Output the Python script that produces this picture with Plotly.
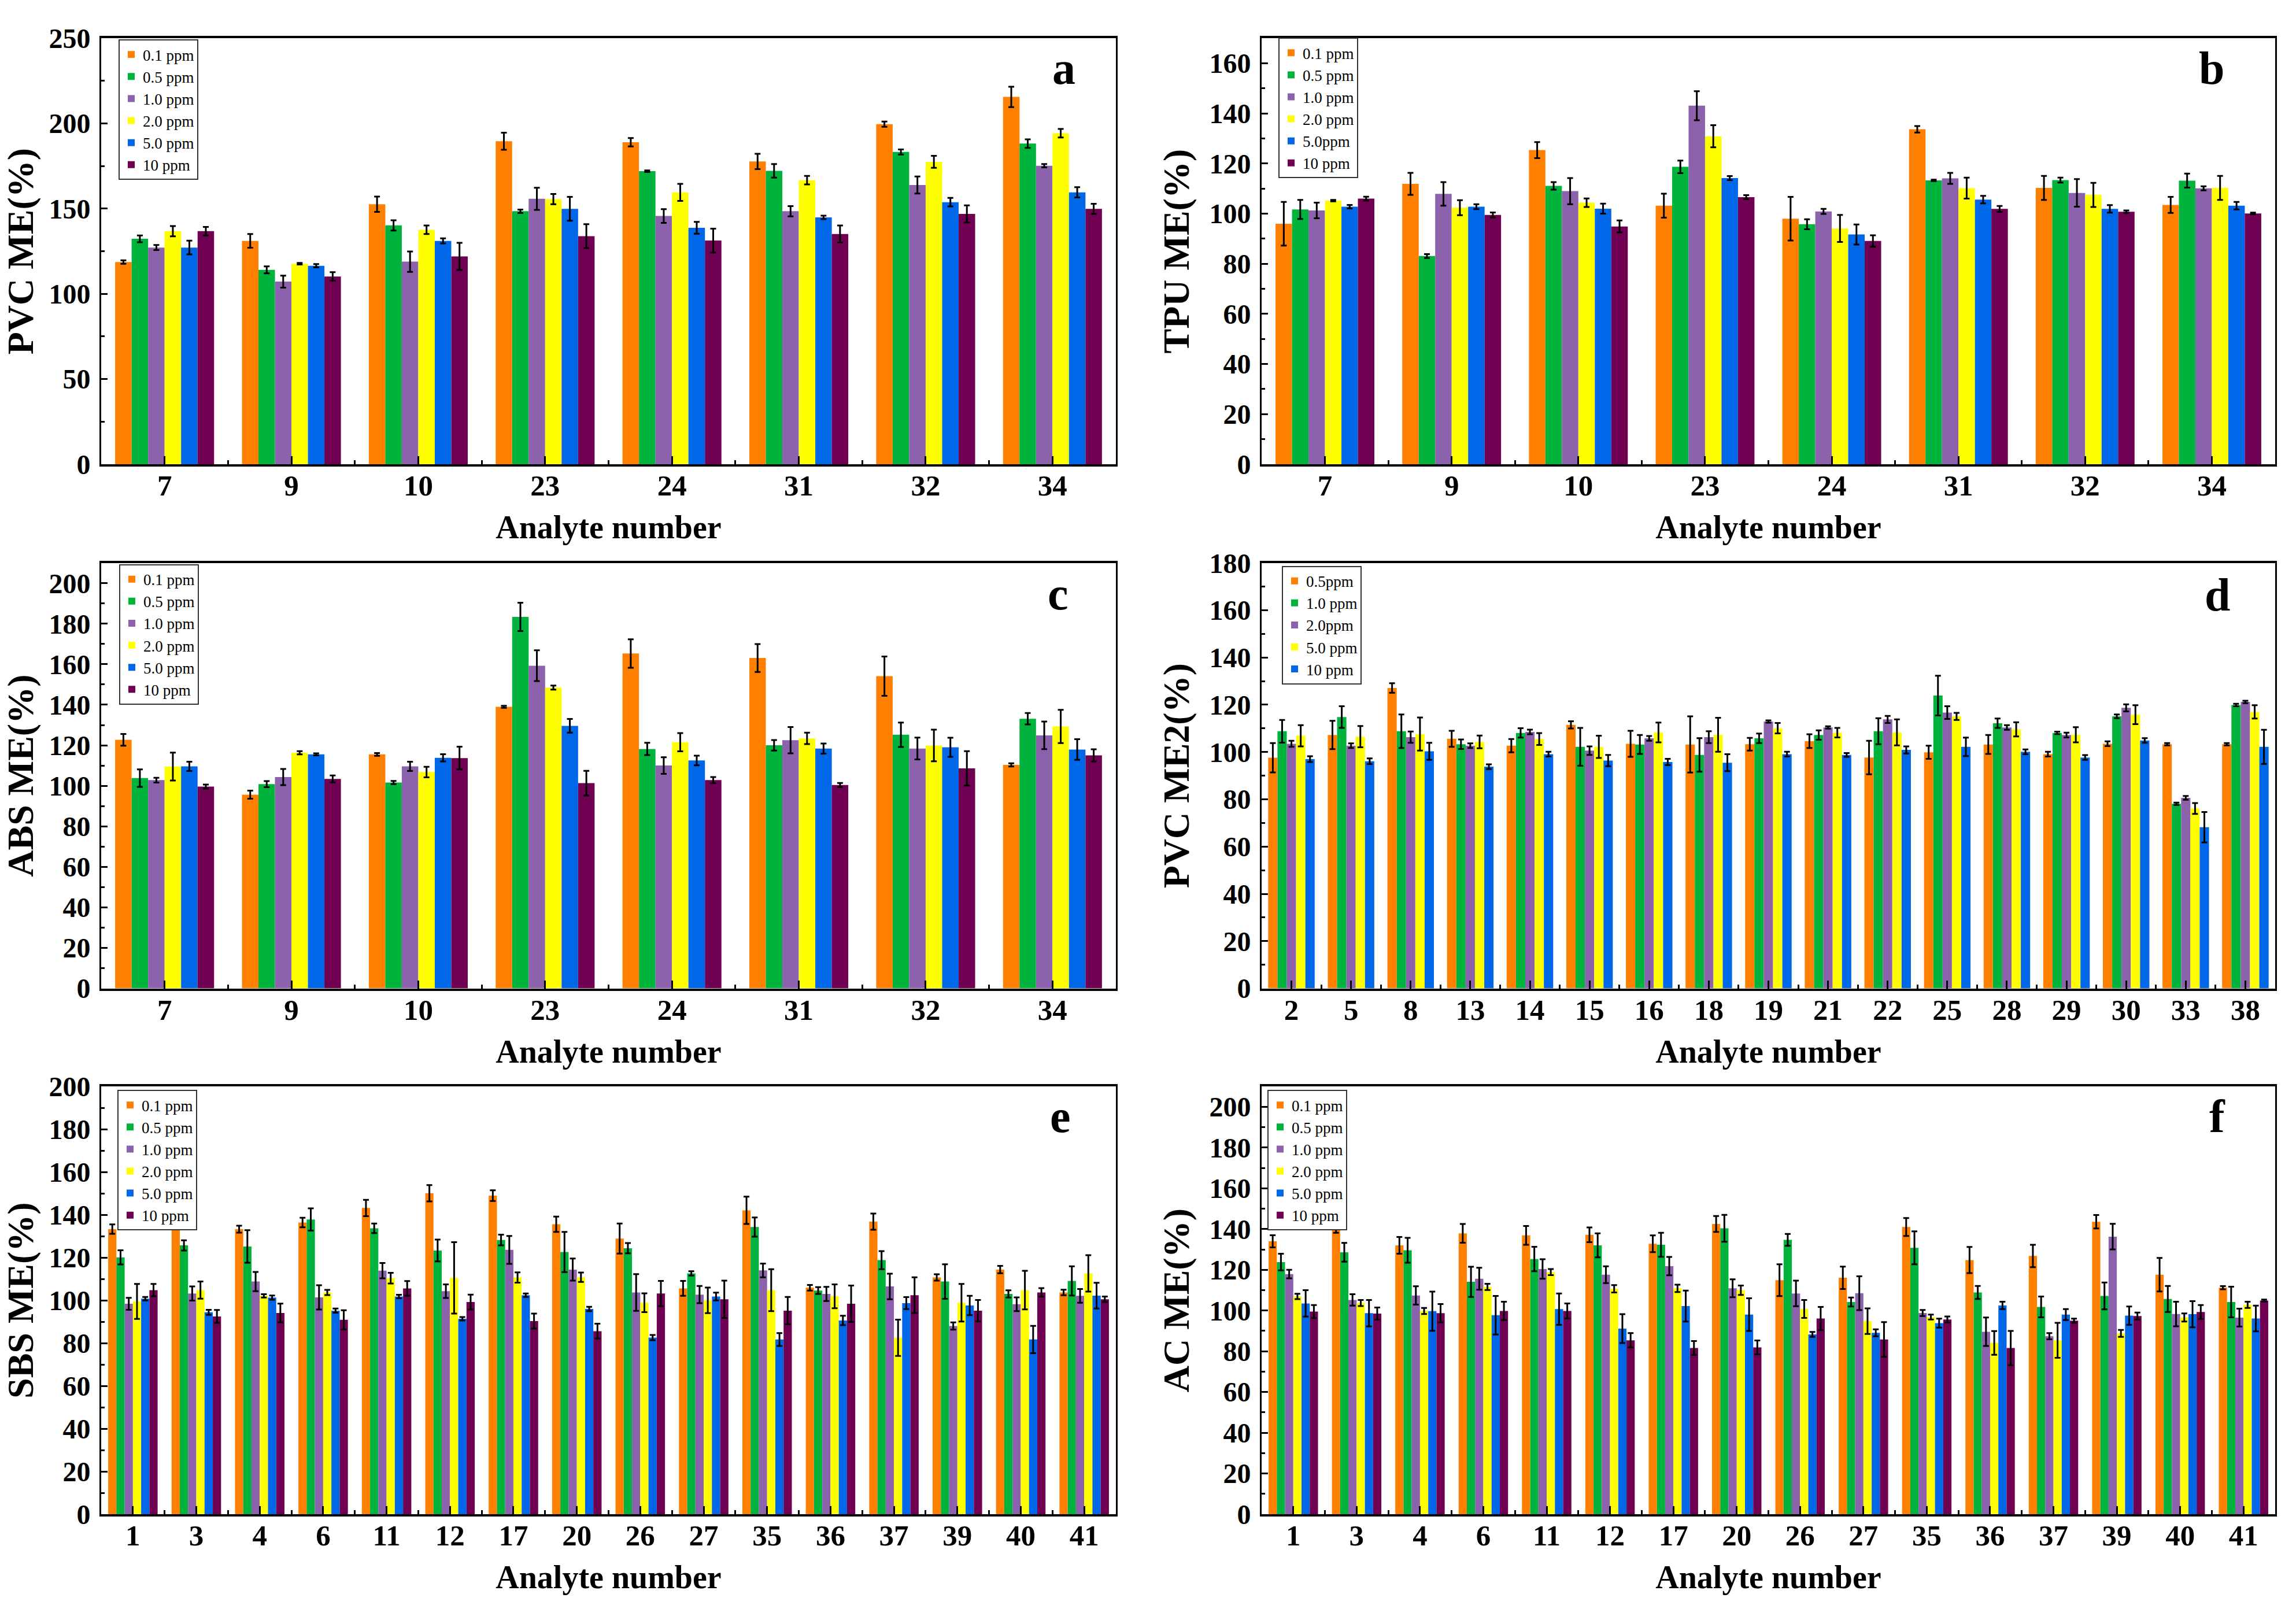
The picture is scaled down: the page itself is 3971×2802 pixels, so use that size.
import plotly.graph_objects as go

W, H = 3971, 2802

# ---------------- data ----------------
colors6 = ["#FF8000", "#00B33C", "#8C62AC", "#FFFF00", "#0068E8", "#6F0052"]
colors5 = ["#FF8000", "#00B33C", "#8C62AC", "#FFFF00", "#0068E8"]
labels_a = ["0.1 ppm", "0.5 ppm", "1.0 ppm", "2.0 ppm", "5.0 ppm", "10 ppm"]
labels_b = ["0.1 ppm", "0.5 ppm", "1.0 ppm", "2.0 ppm", "5.0ppm", "10 ppm"]
labels_d = ["0.5ppm", "1.0 ppm", "2.0ppm", "5.0 ppm", "10 ppm"]

analytes_abc = ["7", "9", "10", "23", "24", "31", "32", "34"]
analytes_d = ["2", "5", "8", "13", "14", "15", "16", "18", "19", "21", "22", "25", "28", "29", "30", "33", "38"]
analytes_ef = ["1", "3", "4", "6", "11", "12", "17", "20", "26", "27", "35", "36", "37", "39", "40", "41"]

# panel a: PVC ME
a_01 = [118.7, 131.1, 152.6, 189.6, 189.0, 177.7, 199.6, 215.6]
a_05 = [132.3, 114.1, 140.2, 148.5, 172.0, 172.2, 183.3, 188.2]
a_10 = [127.2, 107.2, 118.9, 155.8, 145.7, 148.5, 163.9, 175.2]
a_20 = [136.8, 117.7, 137.6, 155.6, 159.6, 166.7, 177.5, 194.3]
a_50 = [127.2, 116.5, 131.1, 149.9, 138.8, 144.9, 153.8, 159.6]
a_100 = [136.8, 110.2, 122.0, 133.9, 131.3, 135.1, 146.9, 149.9]
a_01_err = [1.0, 4.0, 4.5, 5.0, 2.5, 4.5, 1.5, 6.0]
a_05_err = [2.0, 2.0, 3.0, 1.0, 0.5, 4.0, 1.5, 2.5]
a_10_err = [1.5, 3.5, 6.0, 6.5, 4.0, 3.0, 5.0, 1.0]
a_20_err = [3.0, 0.5, 2.5, 3.0, 5.0, 2.5, 3.5, 2.5]
a_50_err = [4.0, 1.0, 1.5, 7.0, 3.5, 1.0, 2.5, 3.0]
a_100_err = [2.5, 2.5, 8.0, 7.0, 7.0, 5.0, 5.0, 3.0]

# panel b: TPU ME
b_01 = [96.0, 111.9, 125.4, 103.2, 98.0, 133.7, 110.3, 103.5]
b_05 = [101.7, 83.1, 111.1, 118.7, 95.8, 113.3, 113.4, 113.2]
b_10 = [101.3, 107.9, 109.0, 143.1, 100.9, 114.1, 108.3, 110.1]
b_20 = [105.2, 102.4, 104.4, 130.9, 94.1, 110.2, 107.5, 110.3]
b_50 = [102.8, 102.8, 102.0, 114.2, 91.7, 105.6, 101.9, 103.2]
b_100 = [106.0, 99.5, 94.9, 106.6, 89.1, 101.9, 100.8, 100.1]
b_01_err = [8.7, 4.4, 3.2, 4.8, 8.7, 1.3, 4.8, 3.2]
b_05_err = [3.8, 0.8, 1.5, 2.5, 2.0, 0.3, 1.0, 2.8]
b_10_err = [3.1, 4.7, 5.2, 5.8, 1.0, 2.2, 5.5, 0.8]
b_20_err = [0.3, 3.0, 1.7, 4.4, 5.4, 4.2, 4.8, 4.8]
b_50_err = [0.7, 1.0, 2.0, 0.8, 4.0, 1.5, 1.5, 1.5]
b_100_err = [0.8, 1.0, 2.4, 0.8, 2.3, 1.2, 0.5, 0.3]

# panel c: ABS ME
c_01 = [122.7, 95.6, 115.5, 139.0, 165.3, 163.1, 154.1, 110.3]
c_05 = [103.8, 100.8, 101.6, 183.4, 118.2, 120.0, 125.2, 133.1]
c_10 = [102.8, 104.3, 109.6, 159.3, 110.0, 122.5, 118.4, 124.9]
c_20 = [109.5, 116.3, 106.8, 148.5, 121.5, 123.4, 119.9, 129.3]
c_50 = [109.6, 115.5, 113.8, 129.6, 112.5, 118.4, 119.0, 117.9]
c_100 = [99.6, 103.4, 113.7, 101.3, 102.8, 100.4, 108.6, 115.0]
c_01_err = [2.9, 2.0, 0.7, 0.5, 7.0, 6.9, 9.7, 0.8]
c_05_err = [4.3, 1.5, 0.8, 7.0, 3.0, 2.6, 6.0, 2.8]
c_10_err = [1.2, 4.0, 2.3, 7.6, 4.1, 6.5, 5.4, 6.8]
c_20_err = [6.9, 0.8, 2.6, 1.0, 4.5, 2.8, 7.8, 8.2]
c_50_err = [2.3, 0.5, 1.8, 3.4, 2.4, 2.5, 4.7, 5.1]
c_100_err = [1.0, 1.7, 5.6, 6.1, 1.5, 1.0, 8.5, 3.0]

# panel d: PVC ME2
d_05 = [97.6, 107.2, 127.1, 105.6, 102.7, 111.5, 103.5, 103.2, 103.3, 104.6, 97.7, 99.9, 103.2, 99.1, 103.5, 103.3, 103.3]
d_10 = [108.8, 114.8, 108.8, 103.3, 108.1, 102.2, 103.2, 98.8, 105.8, 107.2, 108.8, 123.9, 112.2, 108.1, 115.1, 78.1, 119.9]
d_20 = [103.5, 102.7, 106.3, 102.7, 108.5, 100.6, 105.8, 106.3, 112.9, 110.4, 113.8, 116.7, 110.4, 107.2, 118.7, 80.6, 121.2]
d_50 = [106.9, 106.5, 107.6, 104.3, 105.5, 102.2, 108.3, 107.3, 110.1, 108.2, 108.3, 115.1, 109.6, 107.3, 115.8, 76.1, 117.0]
d_100 = [97.0, 96.1, 100.3, 93.8, 99.1, 96.4, 95.8, 95.5, 99.1, 98.8, 100.9, 102.2, 100.1, 97.7, 104.9, 68.2, 102.2]
d_05_err = [6.2, 6.0, 2.0, 3.4, 2.8, 1.5, 5.5, 11.9, 2.7, 2.9, 7.1, 2.8, 4.0, 1.0, 1.0, 0.5, 0.5]
d_10_err = [4.8, 4.6, 7.1, 2.0, 2.0, 8.0, 4.0, 7.1, 2.0, 2.0, 5.5, 8.4, 2.0, 0.5, 0.8, 0.5, 0.5]
d_20_err = [1.3, 1.0, 2.4, 1.0, 1.0, 1.8, 1.0, 2.5, 0.5, 0.5, 1.5, 2.7, 1.0, 1.0, 1.5, 0.8, 0.5]
d_50_err = [4.5, 4.5, 7.0, 2.7, 2.5, 4.7, 4.2, 7.2, 2.2, 2.0, 5.5, 1.5, 3.0, 3.2, 4.0, 2.3, 2.8]
d_100_err = [1.2, 1.2, 3.6, 1.0, 1.0, 2.4, 1.3, 3.6, 1.0, 0.8, 1.5, 3.9, 1.0, 1.0, 1.0, 6.4, 7.2]

# panel e: SBS ME
e_01 = [133.3, 138.0, 133.3, 136.4, 143.2, 150.1, 149.0, 135.6, 128.9, 105.6, 142.1, 105.9, 136.8, 110.7, 114.4, 103.7]
e_05 = [120.1, 125.7, 125.2, 137.8, 133.7, 123.3, 128.2, 122.6, 124.4, 112.6, 134.3, 104.6, 118.8, 108.8, 103.0, 109.1]
e_10 = [98.4, 103.2, 108.8, 101.4, 113.9, 104.3, 123.6, 114.4, 103.7, 102.7, 114.0, 103.0, 106.5, 88.0, 98.2, 102.1]
e_20 = [99.5, 104.8, 102.1, 103.7, 110.4, 110.5, 110.7, 110.8, 98.9, 100.0, 104.8, 101.9, 82.5, 98.9, 104.8, 112.6]
e_50 = [100.8, 94.4, 101.3, 95.2, 101.8, 91.4, 102.4, 96.0, 82.6, 101.8, 81.7, 90.6, 98.7, 97.6, 81.7, 102.2]
e_100 = [104.8, 92.5, 94.1, 90.9, 105.6, 99.2, 90.3, 85.6, 103.2, 100.5, 95.2, 98.4, 102.4, 95.2, 103.7, 100.5]
e_01_err = [2.2, 1.8, 1.6, 2.2, 3.8, 3.8, 2.5, 3.6, 7.0, 3.5, 6.4, 1.3, 3.8, 1.5, 1.7, 1.3]
e_05_err = [3.3, 2.4, 7.6, 5.2, 2.2, 5.1, 2.5, 9.4, 2.4, 1.0, 4.5, 1.6, 4.2, 8.1, 1.7, 6.8]
e_10_err = [2.8, 3.3, 4.5, 5.7, 3.6, 3.2, 6.5, 5.2, 8.6, 4.0, 3.2, 3.3, 6.0, 1.7, 3.2, 3.2]
e_20_err = [8.2, 4.0, 0.8, 1.2, 2.5, 16.7, 2.4, 2.2, 4.4, 6.0, 9.8, 5.6, 8.5, 8.8, 9.0, 8.5]
e_50_err = [0.8, 1.2, 1.0, 1.0, 0.8, 0.8, 0.8, 1.0, 1.2, 1.8, 3.0, 2.2, 2.8, 4.5, 6.4, 6.0]
e_100_err = [2.9, 3.0, 4.4, 4.5, 3.4, 3.5, 3.5, 3.5, 5.9, 8.7, 6.4, 8.5, 8.4, 5.0, 2.0, 1.3]

# panel f: AC ME
f_01 = [134.0, 141.7, 132.0, 137.9, 136.9, 137.2, 132.8, 142.5, 114.9, 116.1, 141.0, 124.8, 126.8, 143.6, 117.6, 111.2]
f_05 = [123.8, 128.6, 129.6, 114.1, 125.3, 132.0, 132.3, 140.4, 134.7, 104.2, 130.8, 108.9, 101.8, 107.2, 105.7, 104.2]
f_10 = [117.9, 105.2, 107.4, 115.6, 120.4, 117.6, 121.8, 110.9, 108.4, 108.5, 98.8, 89.6, 87.4, 136.3, 98.3, 96.5]
f_20 = [106.9, 103.7, 99.8, 111.6, 118.9, 110.7, 110.9, 110.0, 100.8, 94.8, 96.8, 84.1, 85.4, 88.8, 96.6, 102.8]
f_50 = [103.5, 98.7, 99.7, 97.7, 100.7, 91.1, 102.2, 98.0, 88.3, 89.1, 93.8, 102.5, 98.0, 97.5, 98.2, 96.1]
f_100 = [99.5, 98.5, 98.7, 99.8, 99.8, 85.4, 81.6, 81.9, 96.1, 85.8, 95.6, 81.6, 95.0, 97.3, 99.3, 104.9]
f_01_err = [3.0, 3.5, 4.1, 4.6, 4.6, 3.6, 4.1, 3.9, 7.8, 5.5, 4.4, 6.4, 5.5, 3.3, 8.2, 0.8]
f_05_err = [4.1, 4.6, 6.1, 7.4, 6.0, 5.9, 5.9, 6.6, 2.9, 2.2, 8.1, 3.2, 5.1, 6.6, 6.4, 7.5]
f_10_err = [2.1, 2.8, 4.5, 5.4, 4.8, 4.1, 4.5, 4.4, 6.3, 8.3, 1.5, 7.0, 1.5, 6.3, 6.0, 4.4]
f_20_err = [1.3, 1.5, 1.5, 1.5, 1.5, 1.8, 1.8, 2.3, 4.4, 6.3, 1.2, 5.8, 8.6, 1.7, 2.0, 1.5]
f_50_err = [6.5, 6.5, 9.6, 9.5, 7.7, 7.1, 7.6, 8.0, 1.2, 1.7, 2.2, 1.8, 2.7, 4.5, 6.4, 6.3]
f_100_err = [3.2, 3.0, 4.5, 4.5, 3.7, 3.5, 3.4, 3.4, 5.7, 8.5, 1.5, 8.4, 1.0, 1.7, 3.4, 0.5]

panels = [
    dict(cats=analytes_abc, vals=[a_01, a_05, a_10, a_20, a_50, a_100],
         errs=[a_01_err, a_05_err, a_10_err, a_20_err, a_50_err, a_100_err],
         labels=labels_a, colors=colors6, ytitle="PVC ME(%)", yr=[0, 250], dt=50, letter="a"),
    dict(cats=analytes_abc, vals=[b_01, b_05, b_10, b_20, b_50, b_100],
         errs=[b_01_err, b_05_err, b_10_err, b_20_err, b_50_err, b_100_err],
         labels=labels_b, colors=colors6, ytitle="TPU ME(%)", yr=[0, 170], dt=20, letter="b"),
    dict(cats=analytes_abc, vals=[c_01, c_05, c_10, c_20, c_50, c_100],
         errs=[c_01_err, c_05_err, c_10_err, c_20_err, c_50_err, c_100_err],
         labels=labels_a, colors=colors6, ytitle="ABS ME(%)", yr=[0, 210], dt=20, letter="c"),
    dict(cats=analytes_d, vals=[d_05, d_10, d_20, d_50, d_100],
         errs=[d_05_err, d_10_err, d_20_err, d_50_err, d_100_err],
         labels=labels_d, colors=colors5, ytitle="PVC ME2(%)", yr=[0, 180], dt=20, letter="d"),
    dict(cats=analytes_ef, vals=[e_01, e_05, e_10, e_20, e_50, e_100],
         errs=[e_01_err, e_05_err, e_10_err, e_20_err, e_50_err, e_100_err],
         labels=labels_a, colors=colors6, ytitle="SBS ME(%)", yr=[0, 200], dt=20, letter="e"),
    dict(cats=analytes_ef, vals=[f_01, f_05, f_10, f_20, f_50, f_100],
         errs=[f_01_err, f_05_err, f_10_err, f_20_err, f_50_err, f_100_err],
         labels=labels_a, colors=colors6, ytitle="AC ME(%)", yr=[0, 210], dt=20, letter="f"),
]

# ---------------- layout geometry (pixels) ----------------
cols_px = [(175, 1930), (2182, 3935)]
rows_px = [(41, 792), (966, 1716), (1889, 2643)]
legend_px = [(205, 43), (2211, 40), (206, 968), (2217, 971), (203, 1895), (2192, 1895)]
letter_px = [(1840, 94), (3825, 94), (1830, 1020), (3835, 1022), (1834, 1942), (3835, 1942)]

FONT = "Liberation Serif"


def px_x(p):
    return p / W


def px_y(p):
    return 1 - p / H


fig = go.Figure()
layout = dict(
    width=W, height=H,
    margin=dict(l=0, r=0, t=0, b=0),
    paper_bgcolor="white", plot_bgcolor="white",
    barmode="group", bargap=0.22, bargroupgap=0.0,
    font=dict(family=FONT, color="black"),
    annotations=[],
)

for i, p in enumerate(panels):
    r, c = divmod(i, 2)
    suffix = "" if i == 0 else str(i + 1)
    xa, ya = "x" + suffix, "y" + suffix
    leg = "legend" + suffix
    n = len(p["cats"])
    xpos = list(range(n))
    for vals, errs, lab, colr in zip(p["vals"], p["errs"], p["labels"], p["colors"]):
        fig.add_trace(go.Bar(
            x=xpos, y=vals, name=lab, xaxis=xa, yaxis=ya, legend=leg,
            marker=dict(color=colr, line=dict(width=0)),
            error_y=dict(type="data", array=errs, visible=True, color="black",
                         thickness=3, width=5),
        ))
    x0, x1 = cols_px[c]
    y0, y1 = rows_px[r]
    layout["xaxis" + suffix] = dict(
        domain=[px_x(x0), px_x(x1)], anchor=ya, range=[-0.5, n - 0.5],
        tickmode="array", tickvals=xpos, ticktext=p["cats"],
        ticks="inside", ticklen=14, tickwidth=3, tickcolor="black",
        minor=dict(tickmode="array", tickvals=[k + 0.5 for k in range(n - 1)],
                   ticks="inside", ticklen=7, tickwidth=3, tickcolor="black"),
        showline=True, linewidth=4, linecolor="black", mirror=True,
        showgrid=False, zeroline=False,
        tickfont=dict(family=FONT, size=51, color="black", weight="bold"),
        ticklabelstandoff=-11,
        title=dict(text="<b>Analyte number</b>", font=dict(family=FONT, size=56, color="black"),
                   standoff=26),
    )
    layout["yaxis" + suffix] = dict(
        domain=[px_y(y1), px_y(y0)], anchor=xa, range=p["yr"],
        tickmode="linear", tick0=0, dtick=p["dt"],
        ticks="inside", ticklen=11, tickwidth=3, tickcolor="black",
        minor=dict(dtick=p["dt"] / 2, tick0=0, ticks="inside", ticklen=6, tickwidth=3,
                   tickcolor="black", showgrid=False),
        showline=True, linewidth=3, linecolor="black", mirror=True,
        showgrid=False, zeroline=False,
        tickfont=dict(family=FONT, size=48, color="black", weight="bold"),
        ticklabelstandoff=6,
        title=dict(text="<b>" + p["ytitle"] + "</b>", font=dict(family=FONT, size=64, color="black"),
                   standoff=14),
    )
    lx, ly = legend_px[i]
    layout[leg] = dict(
        x=px_x(lx), y=px_y(ly), xanchor="left", yanchor="top",
        bgcolor="white", bordercolor="#333333", borderwidth=2,
        font=dict(family=FONT, size=27, color="black"),
        traceorder="normal", itemwidth=30, tracegroupgap=0,
    )
    tx, ty = letter_px[i]
    layout["annotations"].append(dict(
        text="<b>" + p["letter"] + "</b>", x=px_x(tx), y=px_y(ty), xref="paper", yref="paper",
        xanchor="center", yanchor="middle", showarrow=False,
        font=dict(family=FONT, size=80, color="black"),
    ))

fig.update_layout(**layout)
fig.write_html("out.html",
               config={"displayModeBar": False},
               post_script="document.body.style.margin='0';document.body.style.overflow='hidden';")
